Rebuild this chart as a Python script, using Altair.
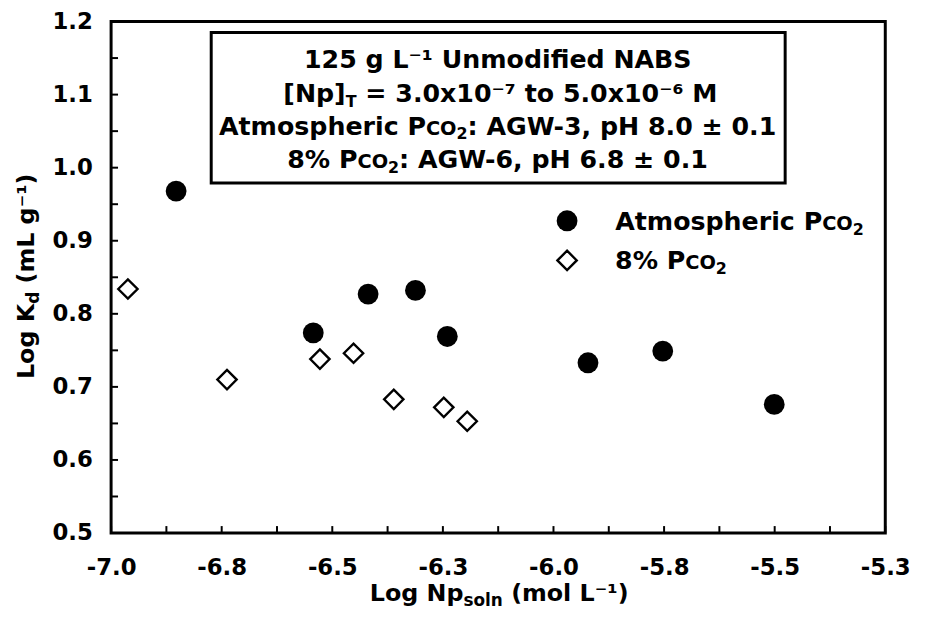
import altair as alt
import pandas as pd

# ---------------- data ----------------
atm_x = [-6.853, -6.543, -6.419, -6.312, -6.240, -5.922, -5.753, -5.501]
atm_y = [0.968, 0.774, 0.827, 0.832, 0.769, 0.733, 0.749, 0.676]

co2_x = [-6.962, -6.738, -6.528, -6.452, -6.361, -6.248, -6.195]
co2_y = [0.834, 0.710, 0.738, 0.746, 0.683, 0.672, 0.653]

x_labels = [-7.0, -6.75, -6.5, -6.25, -6.0, -5.75, -5.5, -5.25]
x_ticks = [-7.0, -6.875, -6.75, -6.625, -6.5, -6.375, -6.25, -6.125,
           -6.0, -5.875, -5.75, -5.625, -5.5, -5.375, -5.25]
y_labels = [0.5, 0.6, 0.7, 0.8, 0.9, 1.0, 1.1, 1.2]
y_ticks = [0.5, 0.55, 0.6, 0.65, 0.7, 0.75, 0.8, 0.85, 0.9, 0.95,
           1.0, 1.05, 1.1, 1.15, 1.2]

FONT = "DejaVu Sans"
W, H = 781, 516

# approximate DejaVu Sans Bold advance widths (units of 1/2048 em)
CW = {" ": 713, "%": 2052, "(": 938, ")": 938, "-": 850, ".": 780,
      ",": 780, ":": 819, "=": 1716, "±": 1716, "[": 938, "]": 938,
      "A": 1585, "B": 1561, "C": 1499, "G": 1681, "H": 1706, "K": 1587,
      "L": 1331, "M": 2009, "N": 1706, "O": 1741, "P": 1532, "S": 1477,
      "T": 1403, "U": 1665, "W": 2294,
      "a": 1382, "c": 1217, "d": 1466, "e": 1389, "f": 891, "g": 1466,
      "h": 1458, "i": 702, "l": 702, "m": 2134, "n": 1458, "o": 1407,
      "p": 1466, "r": 1011, "s": 1219, "t": 979, "x": 1323,
      "⁻": 900, "¹": 900, "⁶": 900, "⁷": 900}
for d in "0123456789":
    CW[d] = 1425


def est(s):
    return sum(CW.get(c, 1340) for c in s) / 2048.0


one = alt.Data(values=[{"a": 1}])


def text_runs(runs, cx, cy, angle=0, left=None):
    """runs: list of (text, fontSize, baselineShiftUp)."""
    widths = [est(t) * s for t, s, _ in runs]
    total = sum(widths)
    if left is not None:
        cx = left + total / 2.0
    pos = -total / 2.0
    out = []
    for i, ((t, s, sh), w) in enumerate(zip(runs, widths)):
        if i == 0:
            anchor, align, txt = pos + w, "right", t
        else:
            txt = t.lstrip(" ")
            lead = (len(t) - len(txt)) * CW[" "] / 2048.0 * s
            anchor, align = pos + lead, "left"
        if angle == 0:
            x, y = cx + anchor, cy - sh
        else:
            x, y = cx - sh, cy - anchor
        out.append(
            alt.Chart(one).mark_text(
                text=txt, font=FONT, fontWeight="bold", fontSize=s,
                align=align, baseline="alphabetic", angle=angle, color="black"
            ).encode(x=alt.value(x), y=alt.value(y))
        )
        pos += w
    return out


xs = alt.Scale(domain=[-7.0, -5.25], nice=False, zero=False)
ys = alt.Scale(domain=[0.5, 1.2], nice=False, zero=False)

lab = dict(labelFont=FONT, labelFontWeight="bold", labelColor="black",
           ticks=False, domain=False, grid=False, labelFlush=False,
           labelOverlap=False, title=None)
x_axis = alt.Axis(values=x_labels, labelFontSize=23, labelPadding=24,
                  labelExpr="(datum.value < 0 ? '-' : '') + format(abs(datum.value), '.1f')",
                  **lab)
y_axis = alt.Axis(values=y_labels, labelFontSize=23, labelPadding=19,
                  labelExpr="format(datum.value, '.1f')", **lab)

df_atm = pd.DataFrame({"x": atm_x, "y": atm_y})
df_co2 = pd.DataFrame({"x": co2_x, "y": co2_y})

atm = alt.Chart(df_atm).mark_point(
    shape="circle", filled=True, size=441, color="black", opacity=1
).encode(x=alt.X("x:Q", scale=xs, axis=x_axis),
         y=alt.Y("y:Q", scale=ys, axis=y_axis))

co2 = alt.Chart(df_co2).mark_point(
    shape="diamond", filled=False, size=380, color="black", strokeWidth=2.4,
    opacity=1
).encode(x=alt.X("x:Q", scale=xs, axis=x_axis),
         y=alt.Y("y:Q", scale=ys, axis=y_axis))

xt = alt.Chart(pd.DataFrame({"x": x_ticks})).mark_rule(
    color="black", strokeWidth=2
).encode(x=alt.X("x:Q", scale=xs, axis=x_axis), y=alt.value(H), y2=alt.value(H - 7))

yt = alt.Chart(pd.DataFrame({"y": y_ticks})).mark_rule(
    color="black", strokeWidth=2
).encode(y=alt.Y("y:Q", scale=ys, axis=y_axis), x=alt.value(0), x2=alt.value(7))

box = alt.Chart(one).mark_rect(
    fill="white", stroke="black", strokeWidth=3
).encode(x=alt.value(101), x2=alt.value(680), y=alt.value(11), y2=alt.value(163))

BS = 25.5
SM = 19.5
SB = 16
box_cx = 390.5
texts = []
texts += text_runs([("125 g L⁻¹ Unmodified NABS", BS, 0)], box_cx, 47)
texts += text_runs([("[Np]", BS, 0), ("T", SB, -5),
                    (" = 3.0x10⁻⁷ to 5.0x10⁻⁶ M", BS, 0)], box_cx, 81)
texts += text_runs([("Atmospheric P", BS, 0), ("CO", SM, 0), ("2", SB, -5),
                    (": AGW-3, pH 8.0 ± 0.1", BS, 0)], box_cx, 114)
texts += text_runs([("8% P", BS, 0), ("CO", SM, 0), ("2", SB, -5),
                    (": AGW-6, pH 6.8 ± 0.1", BS, 0)], box_cx, 148)

# axis titles
texts += text_runs([("Log Np", 24, 0), ("soln", 17, -5), (" (mol L⁻¹)", 24, 0)],
                   W / 2.0, 585)
texts += text_runs([("Log K", 24, 0), ("d", 17, -5), (" (mL g⁻¹)", 24, 0)],
                   -78, H / 2.0, angle=270)

# legend
leg_c = alt.Chart(one).mark_point(
    shape="circle", filled=True, size=441, color="black", opacity=1
).encode(x=alt.value(460), y=alt.value(201))
leg_d = alt.Chart(one).mark_point(
    shape="diamond", filled=False, size=380, color="black", strokeWidth=2.4,
    opacity=1
).encode(x=alt.value(460), y=alt.value(241))
texts += text_runs([("Atmospheric P", BS, 0), ("CO", SM, 0), ("2", SB, -5)],
                   0, 210, left=508)
texts += text_runs([("8% P", BS, 0), ("CO", SM, 0), ("2", SB, -5)],
                   0, 250, left=508)

chart = alt.layer(
    xt, yt, box, atm, co2, leg_c, leg_d, *texts
).properties(
    width=W, height=H, autosize="none",
    padding={"left": 104, "top": 11, "right": 32, "bottom": 75},
    background="white",
).configure_view(stroke="black", strokeWidth=3)

chart.save("out.html", embed_options={"renderer": "svg", "actions": False})
